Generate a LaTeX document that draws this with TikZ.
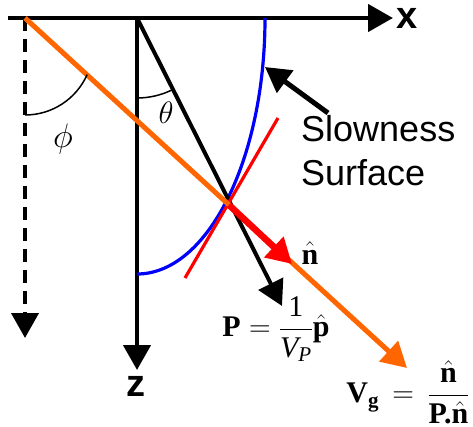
\RequirePackage{fix-cm}
\documentclass[tikz,border=0pt]{standalone}
\usepackage{amsmath}
\usepackage{fontspec}
\setmainfont{Liberation Serif}
\setsansfont{Liberation Sans}
\usepackage{tikz}
\usetikzlibrary{arrows.meta, calc}

\begin{document}
\begin{tikzpicture}[
    x=1pt, y=-1pt,
    >={Triangle[length=25pt, width=27pt]},
    axis/.style={->, line width=4.5pt},
    vec/.style={->, line width=4pt},
    curve/.style={line width=3.2pt},
    angarc/.style={line width=1.5pt},
    axlbl/.style={font=\sffamily\bfseries\fontsize{38}{40}\selectfont, inner sep=0pt},
    txt/.style={font=\sffamily\fontsize{36}{44}\selectfont, align=left, inner sep=0pt},
    eqn/.style={font=\fontsize{30}{36}\selectfont, inner sep=0pt},
]
% ---- colours ----
\definecolor{cray}{HTML}{FF6600}   % group velocity ray
\definecolor{cnorm}{HTML}{FF0000}  % normal / tangent
\definecolor{cslow}{HTML}{0000FF}  % slowness surface
\useasboundingbox (0,0) rectangle (473,426);

% ---- points ----
\coordinate (S)   at (25,18);    % source on the surface
\coordinate (O)   at (137,18);   % origin of slowness plot
\coordinate (Q)   at (229,205);  % point on the slowness surface
\coordinate (xL)  at (8,18);
\coordinate (xR)  at (393,18);
\coordinate (zE)  at (137,370);
\coordinate (dE)  at (25,338);
\coordinate (gE)  at (407,368);
\coordinate (nE)  at (292,264);
\coordinate (pE)  at (282,306);
\coordinate (T1)  at (278,118);
\coordinate (T2)  at (185,278);
\coordinate (lead) at (328,113);
\coordinate (tip) at (265,67);

% ---- axes ----
\draw[axis] (xL) -- (xR);
\draw[axis] (O) -- (zE);
\draw[->, line width=4pt, dash pattern=on 13pt off 8pt] (S) -- (dE);

% ---- slowness surface and tangent ----
\draw[curve, cslow] (265,18) arc[start angle=0, end angle=90,
                               x radius=128, y radius=256];
\draw[vec] (O) -- (pE);
\draw[curve, cnorm] (T1) -- (T2);
\draw[->, line width=5pt, cray] (S) -- (gE);
\draw[->, line width=6.5pt, cnorm] (Q) -- (nE);
\draw[->, line width=5pt] (lead) -- (tip);

% ---- angles ----
\draw[angarc] (137,98) arc[start angle=90, end angle=63.4, radius=80];
\draw[angarc] (25,115) arc[start angle=90, end angle=24, radius=68];

% ---- labels ----
\node[axlbl] (xlab) at (407,18) {x};
\node[axlbl] (zlab) at (136,386) {z};
\node[eqn, font=\fontsize{31}{36}\selectfont] (th) at (166,113) {$\theta$};
\node[eqn, font=\fontsize{34}{40}\selectfont] (ph) at (63,139) {$\phi$};
\node[txt, anchor=north west] (slow) at (301,115) {Slowness\\Surface};
\node[eqn] (nlab) at (310,253) {$\hat{\textbf{n}}$};
\node[eqn] (plab) at (276,329)
    {$\textbf{P}=\dfrac{\textrm{1}}{\textit{V}_{\textit{P}}}\hat{\textbf{p}}$};
\node[eqn] (vlab) at (408,392)
    {$\textbf{V}_{\textbf{g}}\,=\,\dfrac{\hat{\textbf{n}}}{\textbf{P.}\hat{\textbf{n}}}$};
\end{tikzpicture}
\end{document}
